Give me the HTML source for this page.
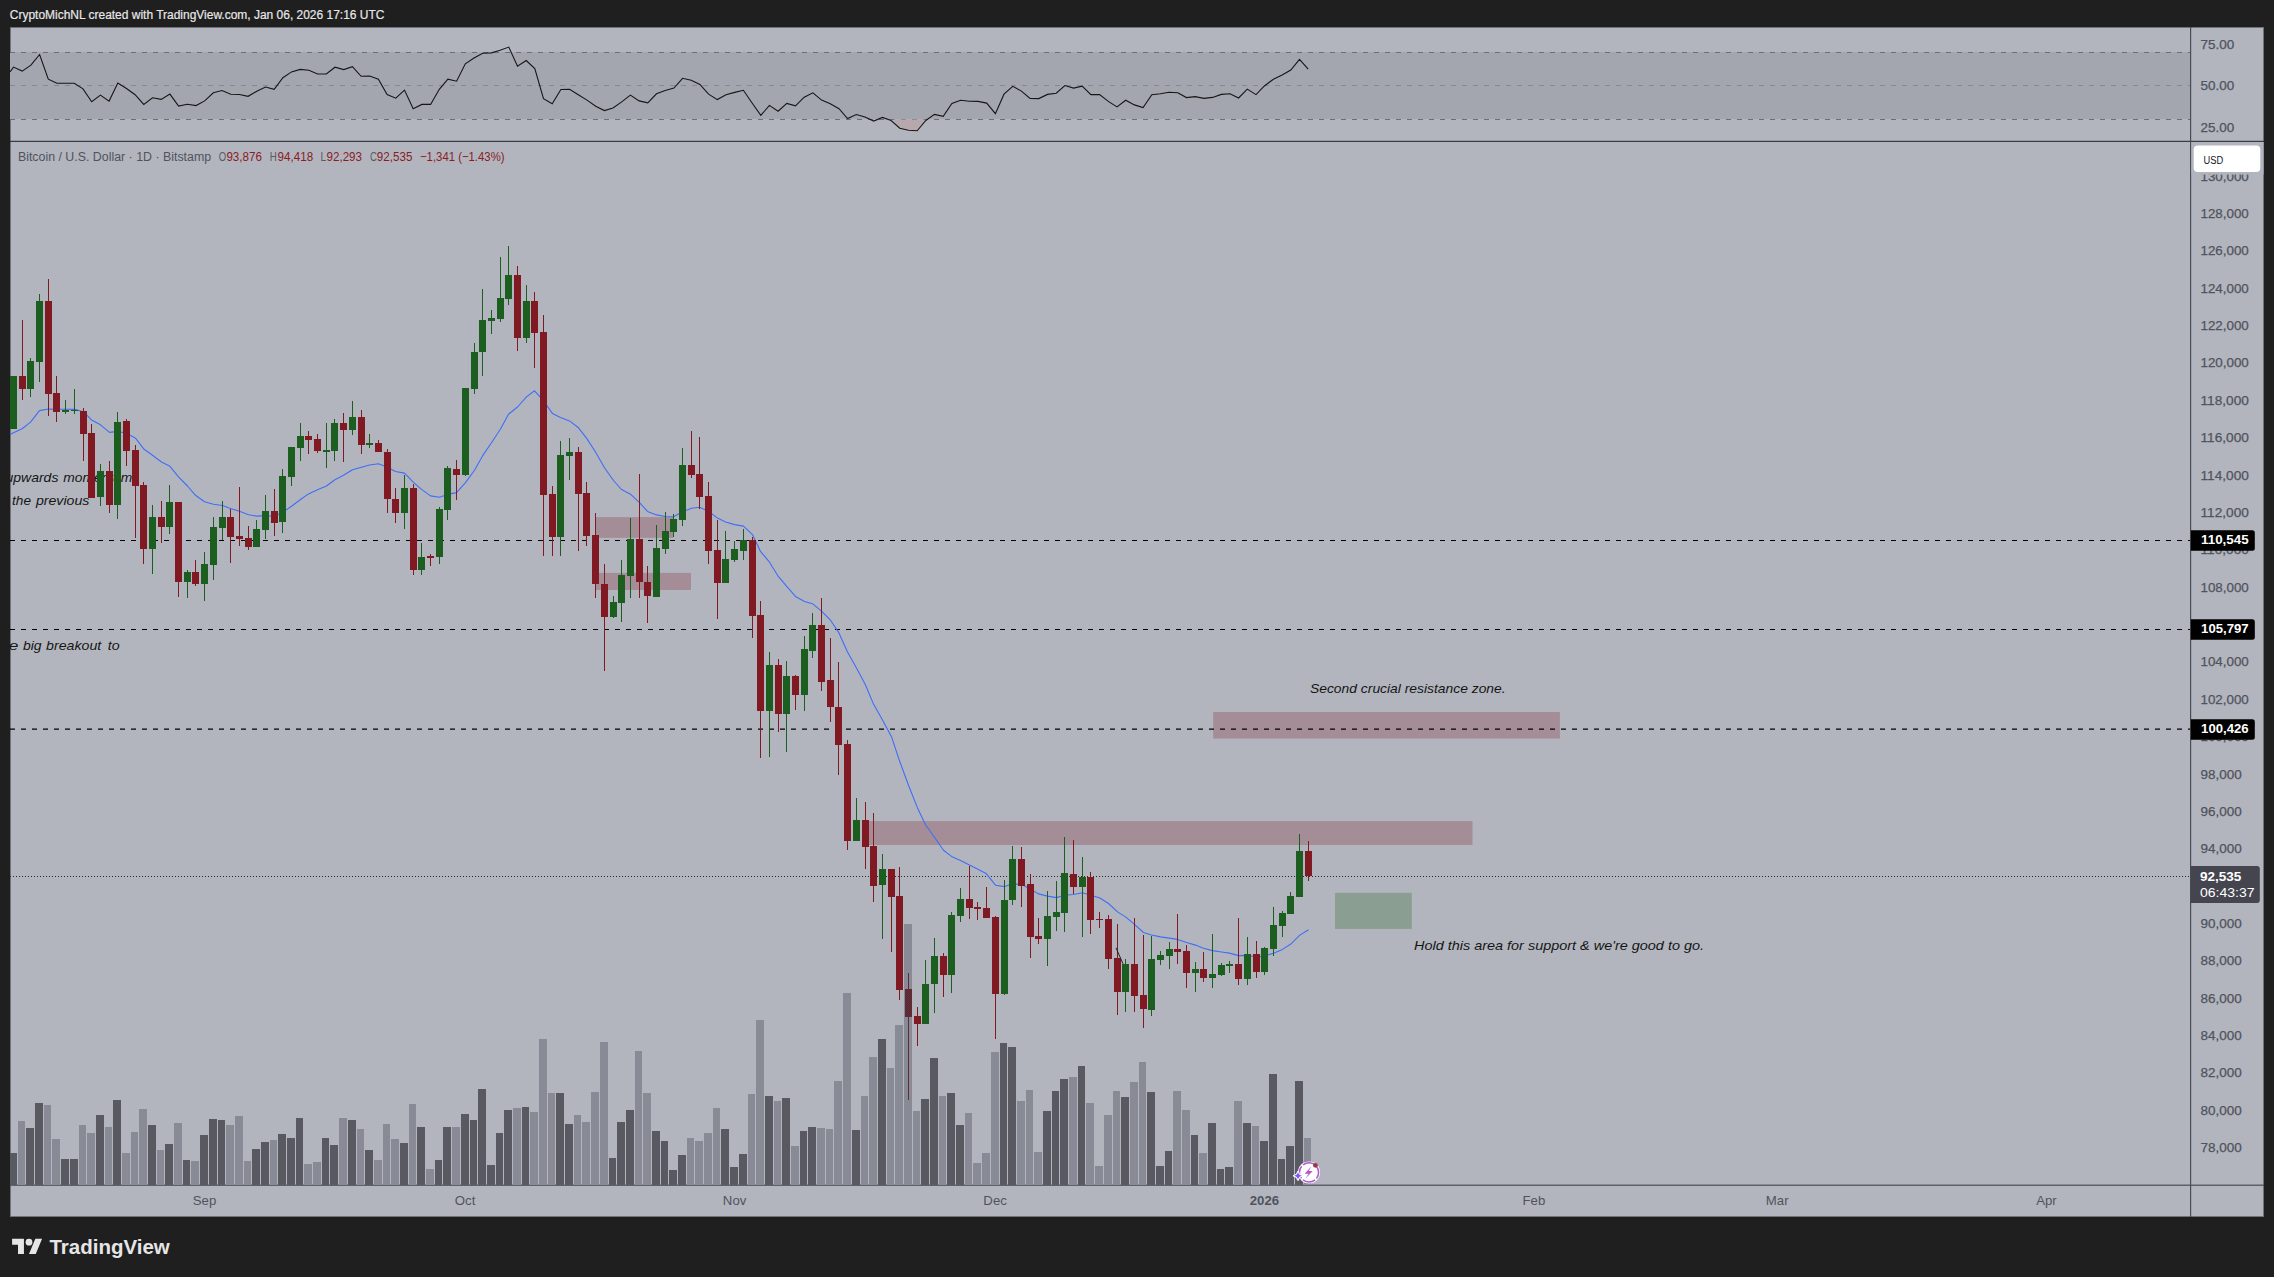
<!DOCTYPE html>
<html><head><meta charset="utf-8"><title>BTCUSD chart</title><style>
html,body{margin:0;padding:0;background:#1f1f1f;}body{width:2274px;height:1277px;overflow:hidden;}svg{display:block}
.ax{font-family:"Liberation Sans",Arial,sans-serif;font-size:12.5px;fill:#50535c;stroke:#50535c;stroke-width:0.25px}
.it{font-family:"Liberation Sans",Arial,sans-serif;font-style:italic;font-size:13px;fill:#151515}
</style></head><body>
<svg width="2274" height="1277" viewBox="0 0 2274 1277">
<defs>
<clipPath id="mainclip"><rect x="10" y="142" width="2180" height="1043"/></clipPath>
<clipPath id="rsiclip"><rect x="10" y="27" width="2180" height="114"/></clipPath>
<pattern id="chk" width="2" height="2" patternUnits="userSpaceOnUse"><rect width="2" height="2" fill="#3d3e47"/><rect width="1" height="1" fill="#801922"/><rect x="1" y="1" width="1" height="1" fill="#801922"/></pattern>
</defs>
<rect width="2274" height="1277" fill="#1f1f1f"/>
<rect x="10" y="27" width="2254" height="1190" fill="#707279"/>
<rect x="11" y="28" width="2252" height="1188" fill="#b2b5be"/>
<g clip-path="url(#rsiclip)">
<rect x="10" y="52" width="2180" height="67" fill="#a3a6af"/>
<line x1="10" y1="52.5" x2="2190" y2="52.5" stroke="#6b6e77" stroke-width="1" stroke-dasharray="5 6" shape-rendering="crispEdges"/>
<line x1="10" y1="85.5" x2="2190" y2="85.5" stroke="#858891" stroke-width="1" stroke-dasharray="5 6" shape-rendering="crispEdges"/>
<line x1="10" y1="119.5" x2="2190" y2="119.5" stroke="#6b6e77" stroke-width="1" stroke-dasharray="5 6" shape-rendering="crispEdges"/>
<polygon points="893.1,119.5 899.8,128.2 908.5,130.2 917.2,130.8 924.8,119.5" fill="#b7a8ae"/>
<polyline points="10.0,71.9 13.5,67.1 22.2,71.1 30.9,65.1 39.6,54.5 48.3,79.2 56.9,83.3 65.6,83.3 74.3,83.3 83.0,88.9 91.7,101.7 100.4,95.1 109.1,101.1 117.8,83.1 126.5,88.5 135.1,94.7 143.8,104.4 152.5,97.8 161.2,99.4 169.9,94.1 178.6,106.1 187.3,104.2 196.0,105.6 204.7,100.9 213.3,92.8 222.0,90.5 230.7,94.3 239.4,94.5 248.1,96.3 256.8,91.2 265.5,87.0 274.2,89.3 282.9,77.7 291.5,71.9 300.2,69.4 308.9,70.3 317.6,74.0 326.3,74.0 335.0,67.2 343.7,69.6 352.4,66.7 361.1,76.3 369.7,76.1 378.4,79.2 387.1,94.5 395.8,98.2 404.5,90.1 413.2,108.7 421.9,104.4 430.6,104.4 439.3,89.3 447.9,79.2 456.6,81.2 465.3,63.8 474.0,58.0 482.7,53.3 491.4,52.9 500.1,50.2 508.8,47.1 517.5,66.3 526.2,60.5 534.8,68.6 543.5,98.6 552.2,103.8 560.9,89.5 569.6,89.3 578.3,94.7 587.0,100.1 595.7,106.3 604.4,110.6 613.0,107.9 621.7,101.9 630.4,95.1 639.1,100.9 647.8,102.9 656.5,93.8 665.2,90.5 673.9,88.1 682.6,78.3 691.2,80.2 699.9,84.5 708.6,94.1 717.3,99.6 726.0,94.7 734.7,92.4 743.4,90.3 752.1,103.0 760.8,115.4 769.4,105.4 778.1,111.2 786.8,103.4 795.5,105.8 804.2,97.2 812.9,92.8 821.6,100.1 830.3,103.8 839.0,108.7 847.6,118.5 856.3,114.5 865.0,117.0 873.7,121.1 882.4,117.4 891.1,120.5 899.8,128.2 908.5,130.2 917.2,130.8 925.8,120.5 934.5,114.4 943.2,116.4 951.9,103.5 960.6,100.2 969.3,101.2 978.0,101.4 986.7,103.1 995.4,113.6 1004.0,94.2 1012.7,86.3 1021.4,91.1 1030.1,98.4 1038.8,98.6 1047.5,94.4 1056.2,93.2 1064.9,85.5 1073.6,88.1 1082.2,86.1 1090.9,94.6 1099.6,94.6 1108.3,101.4 1117.0,106.9 1125.7,100.2 1134.4,104.9 1143.1,107.5 1151.8,94.8 1160.4,93.8 1169.1,92.3 1177.8,92.7 1186.5,97.6 1195.2,96.6 1203.9,98.4 1212.6,97.4 1221.3,94.4 1230.0,93.8 1238.6,98.0 1247.3,89.1 1256.0,94.6 1264.7,85.7 1273.4,79.2 1282.1,75.1 1290.8,70.1 1299.5,59.4 1308.2,69.1" fill="none" stroke="#161616" stroke-width="1.1" stroke-linejoin="miter"/>
</g>
<rect x="10" y="140.8" width="2254" height="1.1" fill="#2e2f34"/>
<rect x="2190" y="27" width="1.2" height="1190" fill="#4a4c54"/>
<rect x="10" y="1184.6" width="2254" height="1.2" fill="#4a4c54"/>
<g clip-path="url(#mainclip)">
<text class="it" x="5.5" y="481.8" textLength="52.9" lengthAdjust="spacingAndGlyphs">upwards</text>
<text class="it" x="63.3" y="481.8" textLength="69.0" lengthAdjust="spacingAndGlyphs">momentum</text>
<text class="it" x="12.0" y="504.7" textLength="19.0" lengthAdjust="spacingAndGlyphs">the</text>
<text class="it" x="35.9" y="504.7" textLength="53.5" lengthAdjust="spacingAndGlyphs">previous</text>
<text class="it" x="8.7" y="649.7" textLength="9.6" lengthAdjust="spacingAndGlyphs">e</text>
<text class="it" x="22.9" y="649.7" textLength="18.6" lengthAdjust="spacingAndGlyphs">big</text>
<text class="it" x="46.1" y="649.7" textLength="55.2" lengthAdjust="spacingAndGlyphs">breakout</text>
<text class="it" x="107.7" y="649.7" textLength="11.9" lengthAdjust="spacingAndGlyphs">to</text>
<text class="it" x="1310" y="692.6" textLength="195.6" lengthAdjust="spacingAndGlyphs">Second crucial resistance zone.</text>
<text class="it" x="1414" y="950" textLength="290" lengthAdjust="spacingAndGlyphs">Hold this area for support &amp; we're good to go.</text>
<rect x="595.7" y="517.1" width="77.3" height="20.7" fill="#a58d97"/>
<rect x="595.7" y="572.9" width="95.3" height="17.1" fill="#a58d97"/>
<rect x="868.5" y="821.1" width="604" height="23.9" fill="#a58d97"/>
<rect x="1213.2" y="712" width="346.7" height="26.6" fill="#a58d97"/>
<rect x="1335" y="892.8" width="76.8" height="36.1" fill="#8a9e92"/>
<g shape-rendering="crispEdges"><rect x="9" y="1153" width="8" height="32" fill="#595a61"/><rect x="18" y="1121" width="7" height="64" fill="#888a96"/><rect x="26" y="1128" width="8" height="57" fill="#595a61"/><rect x="35" y="1103" width="8" height="82" fill="#595a61"/><rect x="44" y="1105" width="7" height="80" fill="#888a96"/><rect x="52" y="1139" width="8" height="46" fill="#888a96"/><rect x="61" y="1159" width="8" height="26" fill="#595a61"/><rect x="70" y="1159" width="8" height="26" fill="#595a61"/><rect x="79" y="1125" width="7" height="60" fill="#888a96"/><rect x="87" y="1133" width="8" height="52" fill="#888a96"/><rect x="96" y="1115" width="8" height="70" fill="#595a61"/><rect x="105" y="1127" width="7" height="58" fill="#888a96"/><rect x="113" y="1100" width="8" height="85" fill="#595a61"/><rect x="122" y="1153" width="8" height="32" fill="#888a96"/><rect x="131" y="1132" width="7" height="53" fill="#888a96"/><rect x="139" y="1109" width="8" height="76" fill="#888a96"/><rect x="148" y="1125" width="8" height="60" fill="#595a61"/><rect x="157" y="1150" width="7" height="35" fill="#888a96"/><rect x="165" y="1144" width="8" height="41" fill="#595a61"/><rect x="174" y="1123" width="8" height="62" fill="#888a96"/><rect x="183" y="1160" width="7" height="25" fill="#595a61"/><rect x="191" y="1161" width="8" height="24" fill="#888a96"/><rect x="200" y="1135" width="8" height="50" fill="#595a61"/><rect x="209" y="1119" width="8" height="66" fill="#595a61"/><rect x="218" y="1120" width="7" height="65" fill="#595a61"/><rect x="226" y="1125" width="8" height="60" fill="#888a96"/><rect x="235" y="1116" width="8" height="69" fill="#888a96"/><rect x="244" y="1161" width="7" height="24" fill="#888a96"/><rect x="252" y="1149" width="8" height="36" fill="#595a61"/><rect x="261" y="1142" width="8" height="43" fill="#595a61"/><rect x="270" y="1140" width="7" height="45" fill="#888a96"/><rect x="278" y="1134" width="8" height="51" fill="#595a61"/><rect x="287" y="1138" width="8" height="47" fill="#595a61"/><rect x="296" y="1118" width="7" height="67" fill="#595a61"/><rect x="304" y="1164" width="8" height="21" fill="#888a96"/><rect x="313" y="1162" width="8" height="23" fill="#888a96"/><rect x="322" y="1138" width="7" height="47" fill="#595a61"/><rect x="330" y="1145" width="8" height="40" fill="#595a61"/><rect x="339" y="1118" width="8" height="67" fill="#888a96"/><rect x="348" y="1120" width="8" height="65" fill="#595a61"/><rect x="357" y="1129" width="7" height="56" fill="#888a96"/><rect x="365" y="1150" width="8" height="35" fill="#595a61"/><rect x="374" y="1160" width="8" height="25" fill="#888a96"/><rect x="383" y="1124" width="7" height="61" fill="#888a96"/><rect x="391" y="1139" width="8" height="46" fill="#888a96"/><rect x="400" y="1143" width="8" height="42" fill="#595a61"/><rect x="409" y="1104" width="7" height="81" fill="#888a96"/><rect x="417" y="1127" width="8" height="58" fill="#595a61"/><rect x="426" y="1169" width="8" height="16" fill="#888a96"/><rect x="435" y="1160" width="7" height="25" fill="#595a61"/><rect x="443" y="1127" width="8" height="58" fill="#595a61"/><rect x="452" y="1127" width="8" height="58" fill="#888a96"/><rect x="461" y="1114" width="8" height="71" fill="#595a61"/><rect x="470" y="1120" width="7" height="65" fill="#595a61"/><rect x="478" y="1089" width="8" height="96" fill="#595a61"/><rect x="487" y="1165" width="8" height="20" fill="#595a61"/><rect x="496" y="1133" width="7" height="52" fill="#595a61"/><rect x="504" y="1110" width="8" height="75" fill="#595a61"/><rect x="513" y="1108" width="8" height="77" fill="#888a96"/><rect x="522" y="1107" width="7" height="78" fill="#595a61"/><rect x="530" y="1112" width="8" height="73" fill="#888a96"/><rect x="539" y="1039" width="8" height="146" fill="#888a96"/><rect x="548" y="1093" width="7" height="92" fill="#888a96"/><rect x="556" y="1093" width="8" height="92" fill="#595a61"/><rect x="565" y="1124" width="8" height="61" fill="#595a61"/><rect x="574" y="1115" width="7" height="70" fill="#888a96"/><rect x="582" y="1122" width="8" height="63" fill="#888a96"/><rect x="591" y="1092" width="8" height="93" fill="#888a96"/><rect x="600" y="1042" width="8" height="143" fill="#888a96"/><rect x="609" y="1158" width="7" height="27" fill="#595a61"/><rect x="617" y="1122" width="8" height="63" fill="#595a61"/><rect x="626" y="1110" width="8" height="75" fill="#595a61"/><rect x="635" y="1051" width="7" height="134" fill="#888a96"/><rect x="643" y="1093" width="8" height="92" fill="#888a96"/><rect x="652" y="1131" width="8" height="54" fill="#595a61"/><rect x="661" y="1141" width="7" height="44" fill="#595a61"/><rect x="669" y="1170" width="8" height="15" fill="#595a61"/><rect x="678" y="1155" width="8" height="30" fill="#595a61"/><rect x="687" y="1138" width="7" height="47" fill="#888a96"/><rect x="695" y="1141" width="8" height="44" fill="#888a96"/><rect x="704" y="1133" width="8" height="52" fill="#888a96"/><rect x="713" y="1108" width="7" height="77" fill="#888a96"/><rect x="721" y="1129" width="8" height="56" fill="#595a61"/><rect x="730" y="1167" width="8" height="18" fill="#595a61"/><rect x="739" y="1154" width="8" height="31" fill="#595a61"/><rect x="748" y="1094" width="7" height="91" fill="#888a96"/><rect x="756" y="1020" width="8" height="165" fill="#888a96"/><rect x="765" y="1096" width="8" height="89" fill="#595a61"/><rect x="774" y="1101" width="7" height="84" fill="#888a96"/><rect x="782" y="1098" width="8" height="87" fill="#595a61"/><rect x="791" y="1146" width="8" height="39" fill="#888a96"/><rect x="800" y="1131" width="7" height="54" fill="#595a61"/><rect x="808" y="1127" width="8" height="58" fill="#595a61"/><rect x="817" y="1128" width="8" height="57" fill="#888a96"/><rect x="826" y="1129" width="7" height="56" fill="#888a96"/><rect x="834" y="1081" width="8" height="104" fill="#888a96"/><rect x="843" y="993" width="8" height="192" fill="#888a96"/><rect x="852" y="1130" width="8" height="55" fill="#595a61"/><rect x="861" y="1096" width="7" height="89" fill="#888a96"/><rect x="869" y="1057" width="8" height="128" fill="#888a96"/><rect x="878" y="1039" width="8" height="146" fill="#595a61"/><rect x="887" y="1068" width="7" height="117" fill="#888a96"/><rect x="895" y="1025" width="8" height="160" fill="#888a96"/><rect x="904" y="924" width="8" height="261" fill="#888a96"/><rect x="913" y="1111" width="7" height="74" fill="#888a96"/><rect x="921" y="1099" width="8" height="86" fill="#595a61"/><rect x="930" y="1058" width="8" height="127" fill="#595a61"/><rect x="939" y="1096" width="7" height="89" fill="#888a96"/><rect x="947" y="1093" width="8" height="92" fill="#595a61"/><rect x="956" y="1125" width="8" height="60" fill="#595a61"/><rect x="965" y="1113" width="7" height="72" fill="#888a96"/><rect x="973" y="1163" width="8" height="22" fill="#888a96"/><rect x="982" y="1153" width="8" height="32" fill="#888a96"/><rect x="991" y="1052" width="8" height="133" fill="#888a96"/><rect x="1000" y="1043" width="7" height="142" fill="#595a61"/><rect x="1008" y="1047" width="8" height="138" fill="#595a61"/><rect x="1017" y="1101" width="8" height="84" fill="#888a96"/><rect x="1026" y="1090" width="7" height="95" fill="#888a96"/><rect x="1034" y="1152" width="8" height="33" fill="#888a96"/><rect x="1043" y="1111" width="8" height="74" fill="#595a61"/><rect x="1052" y="1091" width="7" height="94" fill="#595a61"/><rect x="1060" y="1079" width="8" height="106" fill="#595a61"/><rect x="1069" y="1077" width="8" height="108" fill="#888a96"/><rect x="1078" y="1066" width="7" height="119" fill="#595a61"/><rect x="1086" y="1103" width="8" height="82" fill="#888a96"/><rect x="1095" y="1166" width="8" height="19" fill="#888a96"/><rect x="1104" y="1115" width="8" height="70" fill="#888a96"/><rect x="1113" y="1091" width="7" height="94" fill="#888a96"/><rect x="1121" y="1097" width="8" height="88" fill="#595a61"/><rect x="1130" y="1082" width="8" height="103" fill="#888a96"/><rect x="1139" y="1062" width="7" height="123" fill="#888a96"/><rect x="1147" y="1092" width="8" height="93" fill="#595a61"/><rect x="1156" y="1166" width="8" height="19" fill="#595a61"/><rect x="1165" y="1151" width="7" height="34" fill="#595a61"/><rect x="1173" y="1091" width="8" height="94" fill="#888a96"/><rect x="1182" y="1110" width="8" height="75" fill="#888a96"/><rect x="1191" y="1135" width="7" height="50" fill="#595a61"/><rect x="1199" y="1153" width="8" height="32" fill="#888a96"/><rect x="1208" y="1123" width="8" height="62" fill="#595a61"/><rect x="1217" y="1169" width="7" height="16" fill="#595a61"/><rect x="1225" y="1167" width="8" height="18" fill="#595a61"/><rect x="1234" y="1101" width="8" height="84" fill="#888a96"/><rect x="1243" y="1123" width="8" height="62" fill="#595a61"/><rect x="1252" y="1126" width="7" height="59" fill="#888a96"/><rect x="1260" y="1141" width="8" height="44" fill="#595a61"/><rect x="1269" y="1074" width="8" height="111" fill="#595a61"/><rect x="1278" y="1159" width="7" height="26" fill="#595a61"/><rect x="1286" y="1146" width="8" height="39" fill="#595a61"/><rect x="1295" y="1081" width="8" height="104" fill="#595a61"/><rect x="1304" y="1138" width="7" height="47" fill="#888a96"/></g>
<line x1="10" y1="540.5" x2="2190" y2="540.5" stroke="#000" stroke-width="1.2" stroke-dasharray="5 6"/>
<line x1="10" y1="629.5" x2="2190" y2="629.5" stroke="#000" stroke-width="1.2" stroke-dasharray="5 6"/>
<line x1="10" y1="729.1" x2="2190" y2="729.1" stroke="#000" stroke-width="1.2" stroke-dasharray="5 6"/>
<line x1="10" y1="876.5" x2="2190" y2="876.5" stroke="#2a2b30" stroke-width="1" stroke-dasharray="1 2"/>
<polyline points="10.0,434.4 13.5,432.8 22.5,428.5 30.5,422.1 39.5,410.6 48.5,409.0 56.5,409.2 65.5,409.3 74.5,409.4 83.5,411.7 91.5,419.9 100.5,424.8 109.5,432.4 117.5,431.4 126.5,433.2 135.5,438.2 143.5,448.7 152.5,455.2 161.5,462.0 169.5,465.9 178.5,476.9 187.5,486.0 195.5,495.3 204.5,501.8 213.5,504.2 222.5,505.5 230.5,508.4 239.5,511.3 248.5,514.7 256.5,516.1 265.5,515.6 274.5,516.3 282.5,512.5 291.5,506.2 300.5,499.5 308.5,493.9 317.5,489.8 326.5,486.0 334.5,480.0 343.5,475.2 352.5,469.7 361.5,467.3 369.5,465.0 378.5,463.8 387.5,467.2 395.5,471.5 404.5,473.1 413.5,482.4 421.5,489.4 430.5,495.9 439.5,497.2 447.5,494.4 456.5,492.6 465.5,482.6 474.5,470.2 482.5,455.9 491.5,442.7 500.5,429.0 508.5,414.3 517.5,407.0 526.5,396.9 534.5,390.8 543.5,400.7 552.5,413.6 560.5,417.6 569.5,420.9 578.5,427.8 586.5,438.1 595.5,452.0 604.5,467.7 613.5,480.5 621.5,489.5 630.5,494.2 639.5,502.6 647.5,511.4 656.5,514.9 665.5,516.5 673.5,516.7 682.5,511.8 691.5,508.3 699.5,507.2 708.5,511.3 717.5,518.1 725.5,522.0 734.5,524.6 743.5,526.1 752.5,534.6 760.5,551.4 769.5,562.2 778.5,576.7 786.5,586.1 795.5,596.4 804.5,601.5 812.5,603.7 821.5,611.1 830.5,620.2 838.5,632.1 847.5,652.0 856.5,668.0 865.5,685.0 873.5,704.1 882.5,719.9 891.5,736.7 899.5,760.8 908.5,785.2 917.5,807.9 925.5,824.7 934.5,837.2 943.5,850.3 951.5,856.4 960.5,860.4 969.5,864.9 977.5,869.1 986.5,873.8 995.5,885.2 1004.5,886.6 1012.5,884.0 1021.5,884.2 1030.5,889.2 1038.5,893.9 1047.5,896.1 1056.5,897.6 1064.5,895.3 1073.5,894.5 1082.5,892.8 1090.5,895.3 1099.5,897.7 1108.5,903.5 1117.5,911.9 1125.5,916.9 1134.5,924.4 1143.5,932.5 1151.5,935.0 1160.5,936.9 1169.5,938.1 1177.5,939.4 1186.5,942.5 1195.5,945.1 1203.5,948.2 1212.5,950.6 1221.5,952.0 1229.5,953.1 1238.5,955.6 1247.5,955.4 1256.5,957.0 1264.5,956.1 1273.5,953.2 1282.5,949.4 1290.5,944.3 1299.5,935.4 1308.5,929.8" fill="none" stroke="#3f6ef7" stroke-width="1.1" stroke-linejoin="round"/>
<g shape-rendering="crispEdges"><rect x="13" y="376" width="1" height="53" fill="#1b5e20"/><rect x="10" y="376" width="7" height="53" fill="#1b5e20"/><rect x="22" y="320" width="1" height="80" fill="#801922"/><rect x="19" y="376" width="7" height="13" fill="#801922"/><rect x="30" y="358" width="1" height="39" fill="#1b5e20"/><rect x="27" y="361" width="7" height="28" fill="#1b5e20"/><rect x="39" y="294" width="1" height="88" fill="#1b5e20"/><rect x="36" y="301" width="7" height="61" fill="#1b5e20"/><rect x="48" y="279" width="1" height="137" fill="#801922"/><rect x="45" y="301" width="7" height="93" fill="#801922"/><rect x="56" y="376" width="1" height="46" fill="#801922"/><rect x="53" y="393" width="7" height="19" fill="#801922"/><rect x="65" y="400" width="1" height="14" fill="#1b5e20"/><rect x="62" y="410" width="7" height="2" fill="#1b5e20"/><rect x="74" y="389" width="1" height="25" fill="#1b5e20"/><rect x="71" y="410" width="7" height="1" fill="#1b5e20"/><rect x="83" y="408" width="1" height="53" fill="#801922"/><rect x="80" y="411" width="7" height="23" fill="#801922"/><rect x="91" y="424" width="1" height="74" fill="#801922"/><rect x="88" y="433" width="7" height="65" fill="#801922"/><rect x="100" y="464" width="1" height="42" fill="#1b5e20"/><rect x="97" y="471" width="7" height="26" fill="#1b5e20"/><rect x="109" y="461" width="1" height="52" fill="#801922"/><rect x="106" y="471" width="7" height="34" fill="#801922"/><rect x="117" y="412" width="1" height="107" fill="#1b5e20"/><rect x="114" y="422" width="7" height="83" fill="#1b5e20"/><rect x="126" y="419" width="1" height="47" fill="#801922"/><rect x="123" y="421" width="7" height="30" fill="#801922"/><rect x="135" y="445" width="1" height="93" fill="#801922"/><rect x="132" y="450" width="7" height="36" fill="#801922"/><rect x="143" y="482" width="1" height="82" fill="#801922"/><rect x="140" y="485" width="7" height="64" fill="#801922"/><rect x="152" y="505" width="1" height="69" fill="#1b5e20"/><rect x="149" y="517" width="7" height="32" fill="#1b5e20"/><rect x="161" y="501" width="1" height="42" fill="#801922"/><rect x="158" y="517" width="7" height="10" fill="#801922"/><rect x="169" y="485" width="1" height="49" fill="#1b5e20"/><rect x="166" y="502" width="7" height="25" fill="#1b5e20"/><rect x="178" y="502" width="1" height="95" fill="#801922"/><rect x="175" y="502" width="7" height="80" fill="#801922"/><rect x="187" y="570" width="1" height="28" fill="#1b5e20"/><rect x="184" y="572" width="7" height="10" fill="#1b5e20"/><rect x="195" y="560" width="1" height="26" fill="#801922"/><rect x="192" y="572" width="7" height="12" fill="#801922"/><rect x="204" y="552" width="1" height="49" fill="#1b5e20"/><rect x="201" y="564" width="7" height="20" fill="#1b5e20"/><rect x="213" y="517" width="1" height="63" fill="#1b5e20"/><rect x="210" y="527" width="7" height="38" fill="#1b5e20"/><rect x="222" y="501" width="1" height="39" fill="#1b5e20"/><rect x="219" y="517" width="7" height="11" fill="#1b5e20"/><rect x="230" y="509" width="1" height="54" fill="#801922"/><rect x="227" y="517" width="7" height="20" fill="#801922"/><rect x="239" y="487" width="1" height="59" fill="#801922"/><rect x="236" y="536" width="7" height="3" fill="#801922"/><rect x="248" y="526" width="1" height="24" fill="#801922"/><rect x="245" y="538" width="7" height="9" fill="#801922"/><rect x="256" y="520" width="1" height="27" fill="#1b5e20"/><rect x="253" y="529" width="7" height="18" fill="#1b5e20"/><rect x="265" y="495" width="1" height="44" fill="#1b5e20"/><rect x="262" y="511" width="7" height="19" fill="#1b5e20"/><rect x="274" y="489" width="1" height="47" fill="#801922"/><rect x="271" y="511" width="7" height="12" fill="#801922"/><rect x="282" y="469" width="1" height="64" fill="#1b5e20"/><rect x="279" y="476" width="7" height="46" fill="#1b5e20"/><rect x="291" y="447" width="1" height="39" fill="#1b5e20"/><rect x="288" y="447" width="7" height="30" fill="#1b5e20"/><rect x="300" y="423" width="1" height="38" fill="#1b5e20"/><rect x="297" y="436" width="7" height="12" fill="#1b5e20"/><rect x="308" y="431" width="1" height="23" fill="#801922"/><rect x="305" y="436" width="7" height="4" fill="#801922"/><rect x="317" y="434" width="1" height="19" fill="#801922"/><rect x="314" y="439" width="7" height="12" fill="#801922"/><rect x="326" y="423" width="1" height="45" fill="#1b5e20"/><rect x="323" y="450" width="7" height="2" fill="#1b5e20"/><rect x="334" y="419" width="1" height="42" fill="#1b5e20"/><rect x="331" y="423" width="7" height="28" fill="#1b5e20"/><rect x="343" y="413" width="1" height="49" fill="#801922"/><rect x="340" y="423" width="7" height="7" fill="#801922"/><rect x="352" y="401" width="1" height="34" fill="#1b5e20"/><rect x="349" y="417" width="7" height="13" fill="#1b5e20"/><rect x="361" y="410" width="1" height="44" fill="#801922"/><rect x="358" y="417" width="7" height="28" fill="#801922"/><rect x="369" y="434" width="1" height="14" fill="#1b5e20"/><rect x="366" y="443" width="7" height="2" fill="#1b5e20"/><rect x="378" y="440" width="1" height="12" fill="#801922"/><rect x="375" y="443" width="7" height="9" fill="#801922"/><rect x="387" y="449" width="1" height="64" fill="#801922"/><rect x="384" y="452" width="7" height="47" fill="#801922"/><rect x="395" y="488" width="1" height="35" fill="#801922"/><rect x="392" y="499" width="7" height="14" fill="#801922"/><rect x="404" y="475" width="1" height="54" fill="#1b5e20"/><rect x="401" y="488" width="7" height="25" fill="#1b5e20"/><rect x="413" y="484" width="1" height="91" fill="#801922"/><rect x="410" y="488" width="7" height="82" fill="#801922"/><rect x="421" y="543" width="1" height="32" fill="#1b5e20"/><rect x="418" y="557" width="7" height="13" fill="#1b5e20"/><rect x="430" y="554" width="1" height="12" fill="#801922"/><rect x="427" y="556" width="7" height="2" fill="#801922"/><rect x="439" y="507" width="1" height="57" fill="#1b5e20"/><rect x="436" y="509" width="7" height="48" fill="#1b5e20"/><rect x="447" y="466" width="1" height="54" fill="#1b5e20"/><rect x="444" y="468" width="7" height="42" fill="#1b5e20"/><rect x="456" y="460" width="1" height="40" fill="#801922"/><rect x="453" y="469" width="7" height="6" fill="#801922"/><rect x="465" y="388" width="1" height="88" fill="#1b5e20"/><rect x="462" y="388" width="7" height="87" fill="#1b5e20"/><rect x="474" y="343" width="1" height="51" fill="#1b5e20"/><rect x="471" y="352" width="7" height="37" fill="#1b5e20"/><rect x="482" y="289" width="1" height="87" fill="#1b5e20"/><rect x="479" y="320" width="7" height="32" fill="#1b5e20"/><rect x="491" y="310" width="1" height="24" fill="#1b5e20"/><rect x="488" y="318" width="7" height="3" fill="#1b5e20"/><rect x="500" y="257" width="1" height="65" fill="#1b5e20"/><rect x="497" y="298" width="7" height="21" fill="#1b5e20"/><rect x="508" y="246" width="1" height="59" fill="#1b5e20"/><rect x="505" y="275" width="7" height="24" fill="#1b5e20"/><rect x="517" y="266" width="1" height="85" fill="#801922"/><rect x="514" y="275" width="7" height="63" fill="#801922"/><rect x="526" y="285" width="1" height="58" fill="#1b5e20"/><rect x="523" y="301" width="7" height="37" fill="#1b5e20"/><rect x="534" y="292" width="1" height="76" fill="#801922"/><rect x="531" y="301" width="7" height="32" fill="#801922"/><rect x="543" y="315" width="1" height="241" fill="#801922"/><rect x="540" y="332" width="7" height="163" fill="#801922"/><rect x="552" y="486" width="1" height="70" fill="#801922"/><rect x="549" y="494" width="7" height="43" fill="#801922"/><rect x="560" y="441" width="1" height="115" fill="#1b5e20"/><rect x="557" y="455" width="7" height="82" fill="#1b5e20"/><rect x="569" y="438" width="1" height="42" fill="#1b5e20"/><rect x="566" y="452" width="7" height="4" fill="#1b5e20"/><rect x="578" y="447" width="1" height="104" fill="#801922"/><rect x="575" y="452" width="7" height="42" fill="#801922"/><rect x="586" y="482" width="1" height="64" fill="#801922"/><rect x="583" y="493" width="7" height="43" fill="#801922"/><rect x="595" y="513" width="1" height="85" fill="#801922"/><rect x="592" y="535" width="7" height="49" fill="#801922"/><rect x="604" y="564" width="1" height="107" fill="#801922"/><rect x="601" y="584" width="7" height="33" fill="#801922"/><rect x="613" y="596" width="1" height="22" fill="#1b5e20"/><rect x="610" y="602" width="7" height="15" fill="#1b5e20"/><rect x="621" y="560" width="1" height="62" fill="#1b5e20"/><rect x="618" y="575" width="7" height="28" fill="#1b5e20"/><rect x="630" y="518" width="1" height="80" fill="#1b5e20"/><rect x="627" y="539" width="7" height="37" fill="#1b5e20"/><rect x="639" y="474" width="1" height="124" fill="#801922"/><rect x="636" y="539" width="7" height="43" fill="#801922"/><rect x="647" y="566" width="1" height="57" fill="#801922"/><rect x="644" y="582" width="7" height="14" fill="#801922"/><rect x="656" y="525" width="1" height="72" fill="#1b5e20"/><rect x="653" y="548" width="7" height="49" fill="#1b5e20"/><rect x="665" y="512" width="1" height="42" fill="#1b5e20"/><rect x="662" y="531" width="7" height="18" fill="#1b5e20"/><rect x="673" y="514" width="1" height="23" fill="#1b5e20"/><rect x="670" y="519" width="7" height="13" fill="#1b5e20"/><rect x="682" y="448" width="1" height="78" fill="#1b5e20"/><rect x="679" y="465" width="7" height="55" fill="#1b5e20"/><rect x="691" y="431" width="1" height="47" fill="#801922"/><rect x="688" y="465" width="7" height="10" fill="#801922"/><rect x="699" y="437" width="1" height="72" fill="#801922"/><rect x="696" y="474" width="7" height="23" fill="#801922"/><rect x="708" y="482" width="1" height="82" fill="#801922"/><rect x="705" y="496" width="7" height="55" fill="#801922"/><rect x="717" y="520" width="1" height="99" fill="#801922"/><rect x="714" y="550" width="7" height="33" fill="#801922"/><rect x="725" y="531" width="1" height="52" fill="#1b5e20"/><rect x="722" y="559" width="7" height="24" fill="#1b5e20"/><rect x="734" y="541" width="1" height="21" fill="#1b5e20"/><rect x="731" y="549" width="7" height="11" fill="#1b5e20"/><rect x="743" y="529" width="1" height="31" fill="#1b5e20"/><rect x="740" y="540" width="7" height="11" fill="#1b5e20"/><rect x="752" y="537" width="1" height="101" fill="#801922"/><rect x="749" y="540" width="7" height="76" fill="#801922"/><rect x="760" y="601" width="1" height="157" fill="#801922"/><rect x="757" y="615" width="7" height="96" fill="#801922"/><rect x="769" y="652" width="1" height="105" fill="#1b5e20"/><rect x="766" y="665" width="7" height="46" fill="#1b5e20"/><rect x="778" y="659" width="1" height="73" fill="#801922"/><rect x="775" y="665" width="7" height="49" fill="#801922"/><rect x="786" y="661" width="1" height="91" fill="#1b5e20"/><rect x="783" y="676" width="7" height="38" fill="#1b5e20"/><rect x="795" y="675" width="1" height="35" fill="#801922"/><rect x="792" y="676" width="7" height="19" fill="#801922"/><rect x="804" y="636" width="1" height="75" fill="#1b5e20"/><rect x="801" y="649" width="7" height="46" fill="#1b5e20"/><rect x="812" y="613" width="1" height="45" fill="#1b5e20"/><rect x="809" y="625" width="7" height="26" fill="#1b5e20"/><rect x="821" y="598" width="1" height="93" fill="#801922"/><rect x="818" y="625" width="7" height="57" fill="#801922"/><rect x="830" y="638" width="1" height="84" fill="#801922"/><rect x="827" y="680" width="7" height="27" fill="#801922"/><rect x="838" y="662" width="1" height="113" fill="#801922"/><rect x="835" y="707" width="7" height="38" fill="#801922"/><rect x="847" y="740" width="1" height="110" fill="#801922"/><rect x="844" y="744" width="7" height="97" fill="#801922"/><rect x="856" y="798" width="1" height="43" fill="#1b5e20"/><rect x="853" y="820" width="7" height="21" fill="#1b5e20"/><rect x="865" y="802" width="1" height="67" fill="#801922"/><rect x="862" y="820" width="7" height="27" fill="#801922"/><rect x="873" y="813" width="1" height="89" fill="#801922"/><rect x="870" y="846" width="7" height="40" fill="#801922"/><rect x="882" y="854" width="1" height="85" fill="#1b5e20"/><rect x="879" y="869" width="7" height="16" fill="#1b5e20"/><rect x="891" y="869" width="1" height="83" fill="#801922"/><rect x="888" y="869" width="7" height="28" fill="#801922"/><rect x="899" y="867" width="1" height="133" fill="#801922"/><rect x="896" y="896" width="7" height="94" fill="#801922"/><rect x="908" y="973" width="1" height="127" fill="url(#chk)"/><rect x="905" y="989" width="7" height="28" fill="url(#chk)"/><rect x="917" y="1007" width="1" height="39" fill="#801922"/><rect x="914" y="1016" width="7" height="8" fill="#801922"/><rect x="925" y="960" width="1" height="64" fill="#1b5e20"/><rect x="922" y="984" width="7" height="40" fill="#1b5e20"/><rect x="934" y="938" width="1" height="75" fill="#1b5e20"/><rect x="931" y="956" width="7" height="28" fill="#1b5e20"/><rect x="943" y="953" width="1" height="44" fill="#801922"/><rect x="940" y="956" width="7" height="19" fill="#801922"/><rect x="951" y="912" width="1" height="81" fill="#1b5e20"/><rect x="948" y="915" width="7" height="60" fill="#1b5e20"/><rect x="960" y="888" width="1" height="34" fill="#1b5e20"/><rect x="957" y="899" width="7" height="17" fill="#1b5e20"/><rect x="969" y="866" width="1" height="53" fill="#801922"/><rect x="966" y="899" width="7" height="9" fill="#801922"/><rect x="977" y="902" width="1" height="18" fill="#801922"/><rect x="974" y="907" width="7" height="2" fill="#801922"/><rect x="986" y="887" width="1" height="31" fill="#801922"/><rect x="983" y="908" width="7" height="10" fill="#801922"/><rect x="995" y="916" width="1" height="123" fill="#801922"/><rect x="992" y="917" width="7" height="77" fill="#801922"/><rect x="1004" y="880" width="1" height="115" fill="#1b5e20"/><rect x="1001" y="900" width="7" height="94" fill="#1b5e20"/><rect x="1012" y="846" width="1" height="59" fill="#1b5e20"/><rect x="1009" y="859" width="7" height="41" fill="#1b5e20"/><rect x="1021" y="847" width="1" height="60" fill="#801922"/><rect x="1018" y="859" width="7" height="27" fill="#801922"/><rect x="1030" y="874" width="1" height="84" fill="#801922"/><rect x="1027" y="884" width="7" height="53" fill="#801922"/><rect x="1038" y="918" width="1" height="26" fill="#801922"/><rect x="1035" y="936" width="7" height="3" fill="#801922"/><rect x="1047" y="891" width="1" height="75" fill="#1b5e20"/><rect x="1044" y="916" width="7" height="23" fill="#1b5e20"/><rect x="1056" y="881" width="1" height="50" fill="#1b5e20"/><rect x="1053" y="912" width="7" height="5" fill="#1b5e20"/><rect x="1064" y="837" width="1" height="95" fill="#1b5e20"/><rect x="1061" y="873" width="7" height="40" fill="#1b5e20"/><rect x="1073" y="840" width="1" height="54" fill="#801922"/><rect x="1070" y="874" width="7" height="13" fill="#801922"/><rect x="1082" y="857" width="1" height="80" fill="#1b5e20"/><rect x="1079" y="877" width="7" height="10" fill="#1b5e20"/><rect x="1090" y="872" width="1" height="62" fill="#801922"/><rect x="1087" y="877" width="7" height="43" fill="#801922"/><rect x="1099" y="912" width="1" height="16" fill="#801922"/><rect x="1096" y="919" width="7" height="1" fill="#801922"/><rect x="1108" y="915" width="1" height="54" fill="#801922"/><rect x="1105" y="919" width="7" height="40" fill="#801922"/><rect x="1117" y="924" width="1" height="91" fill="#801922"/><rect x="1114" y="958" width="7" height="34" fill="#801922"/><rect x="1125" y="959" width="1" height="53" fill="#1b5e20"/><rect x="1122" y="964" width="7" height="28" fill="#1b5e20"/><rect x="1134" y="918" width="1" height="94" fill="#801922"/><rect x="1131" y="964" width="7" height="32" fill="#801922"/><rect x="1143" y="935" width="1" height="93" fill="#801922"/><rect x="1140" y="995" width="7" height="14" fill="#801922"/><rect x="1151" y="936" width="1" height="80" fill="#1b5e20"/><rect x="1148" y="959" width="7" height="51" fill="#1b5e20"/><rect x="1160" y="951" width="1" height="14" fill="#1b5e20"/><rect x="1157" y="955" width="7" height="5" fill="#1b5e20"/><rect x="1169" y="942" width="1" height="27" fill="#1b5e20"/><rect x="1166" y="949" width="7" height="7" fill="#1b5e20"/><rect x="1177" y="914" width="1" height="50" fill="#801922"/><rect x="1174" y="949" width="7" height="3" fill="#801922"/><rect x="1186" y="945" width="1" height="43" fill="#801922"/><rect x="1183" y="951" width="7" height="22" fill="#801922"/><rect x="1195" y="962" width="1" height="30" fill="#1b5e20"/><rect x="1192" y="969" width="7" height="4" fill="#1b5e20"/><rect x="1203" y="952" width="1" height="30" fill="#801922"/><rect x="1200" y="969" width="7" height="9" fill="#801922"/><rect x="1212" y="934" width="1" height="54" fill="#1b5e20"/><rect x="1209" y="974" width="7" height="4" fill="#1b5e20"/><rect x="1221" y="963" width="1" height="13" fill="#1b5e20"/><rect x="1218" y="965" width="7" height="10" fill="#1b5e20"/><rect x="1229" y="961" width="1" height="12" fill="#1b5e20"/><rect x="1226" y="964" width="7" height="2" fill="#1b5e20"/><rect x="1238" y="918" width="1" height="67" fill="#801922"/><rect x="1235" y="964" width="7" height="15" fill="#801922"/><rect x="1247" y="937" width="1" height="48" fill="#1b5e20"/><rect x="1244" y="954" width="7" height="25" fill="#1b5e20"/><rect x="1256" y="941" width="1" height="37" fill="#801922"/><rect x="1253" y="954" width="7" height="18" fill="#801922"/><rect x="1264" y="947" width="1" height="28" fill="#1b5e20"/><rect x="1261" y="948" width="7" height="24" fill="#1b5e20"/><rect x="1273" y="907" width="1" height="49" fill="#1b5e20"/><rect x="1270" y="925" width="7" height="24" fill="#1b5e20"/><rect x="1282" y="911" width="1" height="26" fill="#1b5e20"/><rect x="1279" y="913" width="7" height="13" fill="#1b5e20"/><rect x="1290" y="892" width="1" height="22" fill="#1b5e20"/><rect x="1287" y="896" width="7" height="18" fill="#1b5e20"/><rect x="1299" y="834" width="1" height="63" fill="#1b5e20"/><rect x="1296" y="851" width="7" height="46" fill="#1b5e20"/><rect x="1308" y="841" width="1" height="40" fill="#801922"/><rect x="1305" y="851" width="7" height="25" fill="#801922"/></g>
<line x1="1116" y1="947.8" x2="1123" y2="963.8" stroke="#222" stroke-width="1"/>
<g>
<circle cx="1309" cy="1172.4" r="11" fill="#fff"/>
<circle cx="1309" cy="1172.4" r="9.6" fill="none" stroke="#b455d0" stroke-width="1.5" stroke-dasharray="13.1 2" transform="rotate(-40 1309 1172.4)"/>
<path d="M1311.6 1166.2 L1304.6 1173.7 L1308.5 1173.7 L1305.3 1178.7 L1312.7 1171.1 L1308.8 1171.1 Z" fill="#b455d0"/>
<circle cx="1315.4" cy="1165.3" r="2.4" fill="#9b3a46"/>
<path d="M1298 1171.8 Q1298.5 1175.3 1302 1175.8 Q1298.5 1176.3 1298 1179.8 Q1297.5 1176.3 1294 1175.8 Q1297.5 1175.3 1298 1171.8 Z" fill="#7a55ff" stroke="#fff" stroke-width="2" paint-order="stroke" stroke-linejoin="round"/>
</g>
</g>
<g font-family="Liberation Sans, Arial, sans-serif" font-size="12.5">
<text x="17.9" y="161" fill="#50535c" textLength="193.2" lengthAdjust="spacingAndGlyphs">Bitcoin / U.S. Dollar · 1D · Bitstamp</text>
<text x="218.7" y="161" fill="#575a63" textLength="7.4" lengthAdjust="spacingAndGlyphs">O</text>
<text x="226.4" y="161" fill="#8a1c24" textLength="35.6" lengthAdjust="spacingAndGlyphs">93,876</text>
<text x="269.7" y="161" fill="#575a63" textLength="7.0" lengthAdjust="spacingAndGlyphs">H</text>
<text x="277.6" y="161" fill="#8a1c24" textLength="35.6" lengthAdjust="spacingAndGlyphs">94,418</text>
<text x="320.6" y="161" fill="#575a63" textLength="5.6" lengthAdjust="spacingAndGlyphs">L</text>
<text x="326.6" y="161" fill="#8a1c24" textLength="35.4" lengthAdjust="spacingAndGlyphs">92,293</text>
<text x="369.9" y="161" fill="#575a63" textLength="6.9" lengthAdjust="spacingAndGlyphs">C</text>
<text x="376.8" y="161" fill="#8a1c24" textLength="35.6" lengthAdjust="spacingAndGlyphs">92,535</text>
<text x="420" y="161" fill="#8a1c24" textLength="84.5" lengthAdjust="spacingAndGlyphs">−1,341 (−1.43%)</text>
</g>
<clipPath id="axclip"><rect x="2191" y="142" width="73" height="1043"/></clipPath>
<g clip-path="url(#axclip)"><text class="ax" style="font-size:13.3px" x="2200.5" y="1152.2" textLength="41.2" lengthAdjust="spacingAndGlyphs">78,000</text><text class="ax" style="font-size:13.3px" x="2200.5" y="1114.8" textLength="41.2" lengthAdjust="spacingAndGlyphs">80,000</text><text class="ax" style="font-size:13.3px" x="2200.5" y="1077.4" textLength="41.2" lengthAdjust="spacingAndGlyphs">82,000</text><text class="ax" style="font-size:13.3px" x="2200.5" y="1040.1" textLength="41.2" lengthAdjust="spacingAndGlyphs">84,000</text><text class="ax" style="font-size:13.3px" x="2200.5" y="1002.7" textLength="41.2" lengthAdjust="spacingAndGlyphs">86,000</text><text class="ax" style="font-size:13.3px" x="2200.5" y="965.3" textLength="41.2" lengthAdjust="spacingAndGlyphs">88,000</text><text class="ax" style="font-size:13.3px" x="2200.5" y="928.0" textLength="41.2" lengthAdjust="spacingAndGlyphs">90,000</text><text class="ax" style="font-size:13.3px" x="2200.5" y="890.6" textLength="41.2" lengthAdjust="spacingAndGlyphs">92,000</text><text class="ax" style="font-size:13.3px" x="2200.5" y="853.2" textLength="41.2" lengthAdjust="spacingAndGlyphs">94,000</text><text class="ax" style="font-size:13.3px" x="2200.5" y="815.9" textLength="41.2" lengthAdjust="spacingAndGlyphs">96,000</text><text class="ax" style="font-size:13.3px" x="2200.5" y="778.5" textLength="41.2" lengthAdjust="spacingAndGlyphs">98,000</text><text class="ax" style="font-size:13.3px" x="2200.5" y="741.1" textLength="48.3" lengthAdjust="spacingAndGlyphs">100,000</text><text class="ax" style="font-size:13.3px" x="2200.5" y="703.8" textLength="48.3" lengthAdjust="spacingAndGlyphs">102,000</text><text class="ax" style="font-size:13.3px" x="2200.5" y="666.4" textLength="48.3" lengthAdjust="spacingAndGlyphs">104,000</text><text class="ax" style="font-size:13.3px" x="2200.5" y="629.0" textLength="48.3" lengthAdjust="spacingAndGlyphs">106,000</text><text class="ax" style="font-size:13.3px" x="2200.5" y="591.7" textLength="48.3" lengthAdjust="spacingAndGlyphs">108,000</text><text class="ax" style="font-size:13.3px" x="2200.5" y="554.3" textLength="48.3" lengthAdjust="spacingAndGlyphs">110,000</text><text class="ax" style="font-size:13.3px" x="2200.5" y="516.9" textLength="48.3" lengthAdjust="spacingAndGlyphs">112,000</text><text class="ax" style="font-size:13.3px" x="2200.5" y="479.5" textLength="48.3" lengthAdjust="spacingAndGlyphs">114,000</text><text class="ax" style="font-size:13.3px" x="2200.5" y="442.2" textLength="48.3" lengthAdjust="spacingAndGlyphs">116,000</text><text class="ax" style="font-size:13.3px" x="2200.5" y="404.8" textLength="48.3" lengthAdjust="spacingAndGlyphs">118,000</text><text class="ax" style="font-size:13.3px" x="2200.5" y="367.4" textLength="48.3" lengthAdjust="spacingAndGlyphs">120,000</text><text class="ax" style="font-size:13.3px" x="2200.5" y="330.1" textLength="48.3" lengthAdjust="spacingAndGlyphs">122,000</text><text class="ax" style="font-size:13.3px" x="2200.5" y="292.7" textLength="48.3" lengthAdjust="spacingAndGlyphs">124,000</text><text class="ax" style="font-size:13.3px" x="2200.5" y="255.3" textLength="48.3" lengthAdjust="spacingAndGlyphs">126,000</text><text class="ax" style="font-size:13.3px" x="2200.5" y="218.0" textLength="48.3" lengthAdjust="spacingAndGlyphs">128,000</text><text class="ax" style="font-size:13.3px" x="2200.5" y="180.6" textLength="48.3" lengthAdjust="spacingAndGlyphs">130,000</text><text class="ax" style="font-size:13.3px" x="2200.5" y="143.2" textLength="48.3" lengthAdjust="spacingAndGlyphs">132,000</text></g>
<text class="ax" x="2200.5" y="49.0" textLength="33.6" lengthAdjust="spacingAndGlyphs">75.00</text>
<text class="ax" x="2200.5" y="90.3" textLength="33.6" lengthAdjust="spacingAndGlyphs">50.00</text>
<text class="ax" x="2200.5" y="132.2" textLength="33.6" lengthAdjust="spacingAndGlyphs">25.00</text>
<rect x="2191.5" y="142" width="72" height="32.5" fill="#b2b5be"/>
<rect x="2193.7" y="145.6" width="66.6" height="26.4" rx="4" fill="#fff"/>
<text x="2203.6" y="163.6" font-family="Liberation Sans, Arial, sans-serif" font-size="11.7" fill="#131722" textLength="19.7" lengthAdjust="spacingAndGlyphs">USD</text>
<path d="M2190.8 530.3 H2252.3 Q2254.8 530.3 2254.8 532.8 V548.2 Q2254.8 550.7 2252.3 550.7 H2190.8 Z" fill="#000"/>
<text x="2201.1" y="544.4" font-family="Liberation Sans, Arial, sans-serif" font-size="13" font-weight="bold" fill="#fff" textLength="47.5" lengthAdjust="spacingAndGlyphs">110,545</text>
<path d="M2190.8 619.3 H2252.3 Q2254.8 619.3 2254.8 621.8 V637.2 Q2254.8 639.7 2252.3 639.7 H2190.8 Z" fill="#000"/>
<text x="2201.1" y="633.4" font-family="Liberation Sans, Arial, sans-serif" font-size="13" font-weight="bold" fill="#fff" textLength="47.5" lengthAdjust="spacingAndGlyphs">105,797</text>
<path d="M2190.8 719.3 H2252.3 Q2254.8 719.3 2254.8 721.8 V737.2 Q2254.8 739.7 2252.3 739.7 H2190.8 Z" fill="#000"/>
<text x="2201.1" y="733.4" font-family="Liberation Sans, Arial, sans-serif" font-size="13" font-weight="bold" fill="#fff" textLength="47.5" lengthAdjust="spacingAndGlyphs">100,426</text>
<path d="M2190.7 866.1 H2257 Q2259.8 866.1 2259.8 869 V900 Q2259.8 902.9 2257 902.9 H2190.7 Z" fill="#44454e"/>
<text x="2200" y="881" font-family="Liberation Sans, Arial, sans-serif" font-size="13" font-weight="bold" fill="#fff" textLength="41.4" lengthAdjust="spacingAndGlyphs">92,535</text>
<text x="2200" y="897" font-family="Liberation Sans, Arial, sans-serif" font-size="13" fill="#fff" textLength="54.6" lengthAdjust="spacingAndGlyphs">06:43:37</text>
<text class="ax" style="font-size:13.2px;stroke-width:0" x="204.5" y="1204.8" text-anchor="middle">Sep</text>
<text class="ax" style="font-size:13.2px;stroke-width:0" x="465.1" y="1204.8" text-anchor="middle">Oct</text>
<text class="ax" style="font-size:13.2px;stroke-width:0" x="734.6" y="1204.8" text-anchor="middle">Nov</text>
<text class="ax" style="font-size:13.2px;stroke-width:0" x="995.1" y="1204.8" text-anchor="middle">Dec</text>
<text class="ax" style="font-size:13.2px;stroke-width:0" x="1264.4" y="1204.8" text-anchor="middle" font-weight="bold">2026</text>
<text class="ax" style="font-size:13.2px;stroke-width:0" x="1533.9" y="1204.8" text-anchor="middle">Feb</text>
<text class="ax" style="font-size:13.2px;stroke-width:0" x="1777.2" y="1204.8" text-anchor="middle">Mar</text>
<text class="ax" style="font-size:13.2px;stroke-width:0" x="2046.5" y="1204.8" text-anchor="middle">Apr</text>
<text x="9.8" y="19" font-family="Liberation Sans, Arial, sans-serif" font-size="12.5" fill="#e8e8e8" stroke="#e8e8e8" stroke-width="0.2" textLength="374.6" lengthAdjust="spacingAndGlyphs">CryptoMichNL created with TradingView.com, Jan 06, 2026 17:16 UTC</text>
<g transform="translate(12.1 1235.4) scale(0.845)" fill="#e6e6e6"><path d="M14 22H7V11H0V4h14v18zM28 22h-8l7.5-18h8L28 22z"/><circle cx="20" cy="8" r="4"/></g>
<text x="49.5" y="1254.2" font-family="Liberation Sans, Arial, sans-serif" font-size="20" font-weight="bold" fill="#e6e6e6" textLength="120.2" lengthAdjust="spacingAndGlyphs">TradingView</text>
</svg></body></html>
